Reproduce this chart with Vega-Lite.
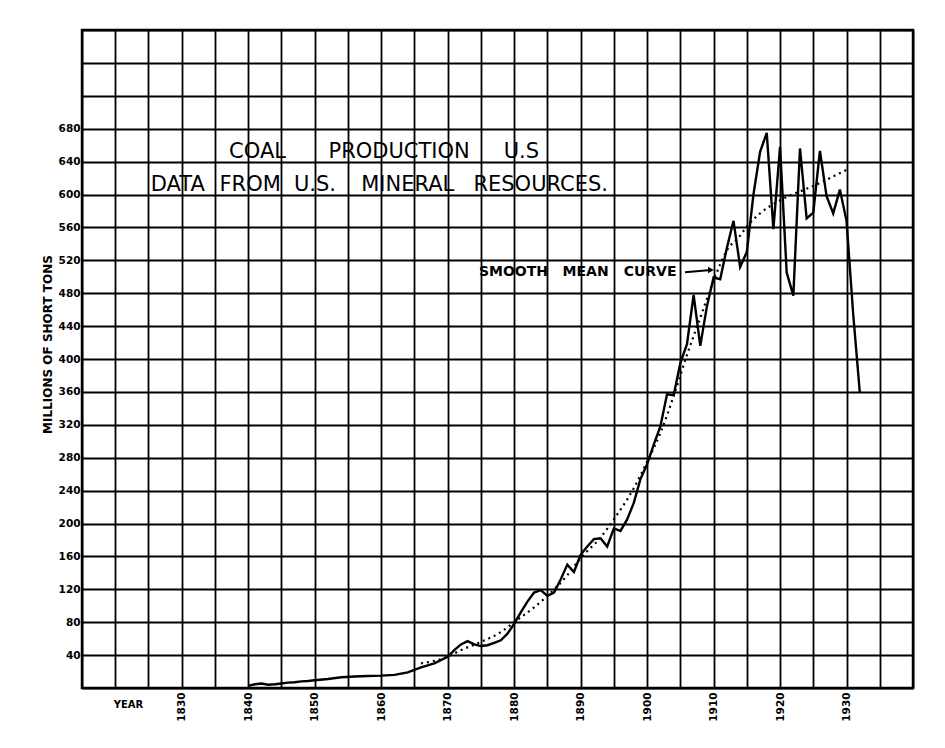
{
  "$schema": "https://vega.github.io/schema/vega-lite/v6.json",
  "width": 831,
  "height": 658,
  "autosize": {"type": "none"},
  "padding": {"left": 82, "top": 30, "right": 32, "bottom": 60},
  "background": "white",
  "config": {
    "view": {"stroke": "black", "strokeWidth": 2.5},
    "font": "DejaVu Sans"
  },
  "datasets": {
    "prod": [
      {"year": 1840, "tons": 2.5}, {"year": 1841, "tons": 4.5}, {"year": 1842, "tons": 5.5}, {"year": 1843, "tons": 4},
      {"year": 1844, "tons": 4.5}, {"year": 1845, "tons": 5.5}, {"year": 1846, "tons": 6.5}, {"year": 1847, "tons": 7},
      {"year": 1848, "tons": 8}, {"year": 1849, "tons": 8.5}, {"year": 1850, "tons": 9.5}, {"year": 1852, "tons": 11},
      {"year": 1854, "tons": 13}, {"year": 1856, "tons": 14}, {"year": 1858, "tons": 14.5}, {"year": 1860, "tons": 15},
      {"year": 1862, "tons": 16}, {"year": 1864, "tons": 19}, {"year": 1866, "tons": 25}, {"year": 1868, "tons": 30},
      {"year": 1870, "tons": 38}, {"year": 1871, "tons": 46}, {"year": 1872, "tons": 53}, {"year": 1873, "tons": 57},
      {"year": 1874, "tons": 53}, {"year": 1875, "tons": 51}, {"year": 1876, "tons": 52}, {"year": 1877, "tons": 55},
      {"year": 1878, "tons": 58}, {"year": 1879, "tons": 66}, {"year": 1880, "tons": 78}, {"year": 1881, "tons": 92},
      {"year": 1882, "tons": 105}, {"year": 1883, "tons": 116}, {"year": 1884, "tons": 119}, {"year": 1885, "tons": 112},
      {"year": 1886, "tons": 116}, {"year": 1887, "tons": 132}, {"year": 1888, "tons": 150}, {"year": 1889, "tons": 141},
      {"year": 1890, "tons": 162}, {"year": 1891, "tons": 172}, {"year": 1892, "tons": 181}, {"year": 1893, "tons": 182},
      {"year": 1894, "tons": 172}, {"year": 1895, "tons": 194}, {"year": 1896, "tons": 191}, {"year": 1897, "tons": 205},
      {"year": 1898, "tons": 225}, {"year": 1899, "tons": 254}, {"year": 1900, "tons": 272}, {"year": 1901, "tons": 296},
      {"year": 1902, "tons": 318}, {"year": 1903, "tons": 357}, {"year": 1904, "tons": 356}, {"year": 1905, "tons": 395},
      {"year": 1906, "tons": 418}, {"year": 1907, "tons": 478}, {"year": 1908, "tons": 416}, {"year": 1909, "tons": 464},
      {"year": 1910, "tons": 499}, {"year": 1911, "tons": 497}, {"year": 1912, "tons": 535}, {"year": 1913, "tons": 568},
      {"year": 1914, "tons": 512}, {"year": 1915, "tons": 530}, {"year": 1916, "tons": 600}, {"year": 1917, "tons": 652},
      {"year": 1918, "tons": 675}, {"year": 1919, "tons": 558}, {"year": 1920, "tons": 658}, {"year": 1921, "tons": 505},
      {"year": 1922, "tons": 477}, {"year": 1923, "tons": 656}, {"year": 1924, "tons": 571}, {"year": 1925, "tons": 578},
      {"year": 1926, "tons": 653}, {"year": 1927, "tons": 598}, {"year": 1928, "tons": 577}, {"year": 1929, "tons": 606},
      {"year": 1930, "tons": 568}, {"year": 1931, "tons": 455}, {"year": 1932, "tons": 359}
    ],
    "smooth": [
      {"year": 1866, "tons": 30}, {"year": 1870, "tons": 38}, {"year": 1872, "tons": 46}, {"year": 1875, "tons": 56},
      {"year": 1878, "tons": 68}, {"year": 1880, "tons": 80}, {"year": 1883, "tons": 98}, {"year": 1885, "tons": 112},
      {"year": 1888, "tons": 137}, {"year": 1890, "tons": 158}, {"year": 1893, "tons": 183}, {"year": 1895, "tons": 205},
      {"year": 1898, "tons": 243}, {"year": 1900, "tons": 275}, {"year": 1902, "tons": 310}, {"year": 1904, "tons": 355},
      {"year": 1906, "tons": 405}, {"year": 1908, "tons": 450}, {"year": 1910, "tons": 495}, {"year": 1912, "tons": 532},
      {"year": 1914, "tons": 550}, {"year": 1915, "tons": 561}, {"year": 1917, "tons": 577}, {"year": 1920, "tons": 593},
      {"year": 1924, "tons": 607}, {"year": 1926, "tons": 614}, {"year": 1928, "tons": 622}, {"year": 1930, "tons": 630}
    ],
    "heading": [
      {"year": 1841.4, "tons": 651.7, "text": "COAL"},
      {"year": 1862.7, "tons": 651.7, "text": "PRODUCTION"},
      {"year": 1881.1, "tons": 651.7, "text": "U.S"},
      {"year": 1829.4, "tons": 611.6, "text": "DATA"},
      {"year": 1840.3, "tons": 611.6, "text": "FROM"},
      {"year": 1850.05, "tons": 611.6, "text": "U.S."},
      {"year": 1864.0, "tons": 611.6, "text": "MINERAL"},
      {"year": 1884.0, "tons": 611.6, "text": "RESOURCES."}
    ],
    "note": [
      {"year": 1879.9, "tons": 505.4, "text": "SMOOTH"},
      {"year": 1890.75, "tons": 505.4, "text": "MEAN"},
      {"year": 1900.45, "tons": 505.4, "text": "CURVE"}
    ],
    "arrow": [
      {"year": 1905.7, "tons": 505.5, "year2": 1909.6, "tons2": 508.2}
    ],
    "arrowhead": [
      {"year": 1909.6, "tons": 508.2}
    ]
  },
  "layer": [
    {
      "data": {"name": "prod"},
      "mark": {"type": "line", "color": "black", "strokeWidth": 2.4, "strokeJoin": "miter"},
      "encoding": {
        "x": {
          "field": "year", "type": "quantitative",
          "scale": {"domain": [1815, 1940], "nice": false, "zero": false},
          "axis": {
            "values": [1815,1820,1825,1830,1835,1840,1845,1850,1855,1860,1865,1870,1875,1880,1885,1890,1895,1900,1905,1910,1915,1920,1925,1930,1935,1940],
            "tickCount": 200,
            "format": "d",
            "labelExpr": "datum.value % 10 == 0 && datum.value >= 1830 && datum.value <= 1930 ? datum.label : ''",
            "labelAngle": -90,
            "labelFont": "DejaVu Sans",
            "labelFontWeight": "bold",
            "labelFontSize": 10.5,
            "labelColor": "black",
            "labelPadding": 4,
            "labelOverlap": false,
            "ticks": false,
            "domain": false,
            "grid": true,
            "gridColor": "black",
            "gridWidth": 1.8,
            "gridOpacity": 1,
            "title": "YEAR",
            "titleX": 46,
            "titleY": 16,
            "titleAlign": "center",
            "titleBaseline": "middle",
            "titleFont": "DejaVu Sans",
            "titleFontWeight": "bold",
            "titleFontSize": 10,
            "titleColor": "black"
          }
        },
        "y": {
          "field": "tons", "type": "quantitative",
          "scale": {"domain": [0, 800], "nice": false},
          "axis": {
            "values": [0,40,80,120,160,200,240,280,320,360,400,440,480,520,560,600,640,680,720,760,800],
            "tickCount": 200,
            "labelExpr": "datum.value >= 40 && datum.value <= 680 ? datum.label : ''",
            "labelFont": "DejaVu Sans",
            "labelFontWeight": "bold",
            "labelFontSize": 10.5,
            "labelColor": "black",
            "labelPadding": 2,
            "labelOverlap": false,
            "ticks": false,
            "domain": false,
            "grid": true,
            "gridColor": "black",
            "gridWidth": 1.8,
            "gridOpacity": 1,
            "title": "MILLIONS OF SHORT TONS",
            "titleX": -35,
            "titleY": 314,
            "titleAngle": -90,
            "titleAlign": "center",
            "titleBaseline": "middle",
            "titleFont": "DejaVu Sans",
            "titleFontWeight": "bold",
            "titleFontSize": 12,
            "titleColor": "black"
          }
        }
      }
    },
    {
      "data": {"name": "smooth"},
      "mark": {"type": "line", "color": "black", "strokeWidth": 2.2, "strokeDash": [2, 4], "interpolate": "monotone"},
      "encoding": {
        "x": {"field": "year", "type": "quantitative"},
        "y": {"field": "tons", "type": "quantitative"}
      }
    },
    {
      "data": {"name": "heading"},
      "mark": {"type": "text", "font": "DejaVu Sans", "fontSize": 21, "color": "black", "align": "center", "baseline": "middle"},
      "encoding": {
        "x": {"field": "year", "type": "quantitative"},
        "y": {"field": "tons", "type": "quantitative"},
        "text": {"field": "text"}
      }
    },
    {
      "data": {"name": "note"},
      "mark": {"type": "text", "font": "DejaVu Sans", "fontSize": 14, "fontWeight": "bold", "color": "black", "align": "center", "baseline": "middle"},
      "encoding": {
        "x": {"field": "year", "type": "quantitative"},
        "y": {"field": "tons", "type": "quantitative"},
        "text": {"field": "text"}
      }
    },
    {
      "data": {"name": "arrow"},
      "mark": {"type": "rule", "color": "black", "strokeWidth": 2},
      "encoding": {
        "x": {"field": "year", "type": "quantitative"},
        "y": {"field": "tons", "type": "quantitative"},
        "x2": {"field": "year2"},
        "y2": {"field": "tons2"}
      }
    },
    {
      "data": {"name": "arrowhead"},
      "mark": {"type": "point", "shape": "triangle-right", "filled": true, "color": "black", "size": 45, "opacity": 1},
      "encoding": {
        "x": {"field": "year", "type": "quantitative"},
        "y": {"field": "tons", "type": "quantitative"}
      }
    }
  ]
}
